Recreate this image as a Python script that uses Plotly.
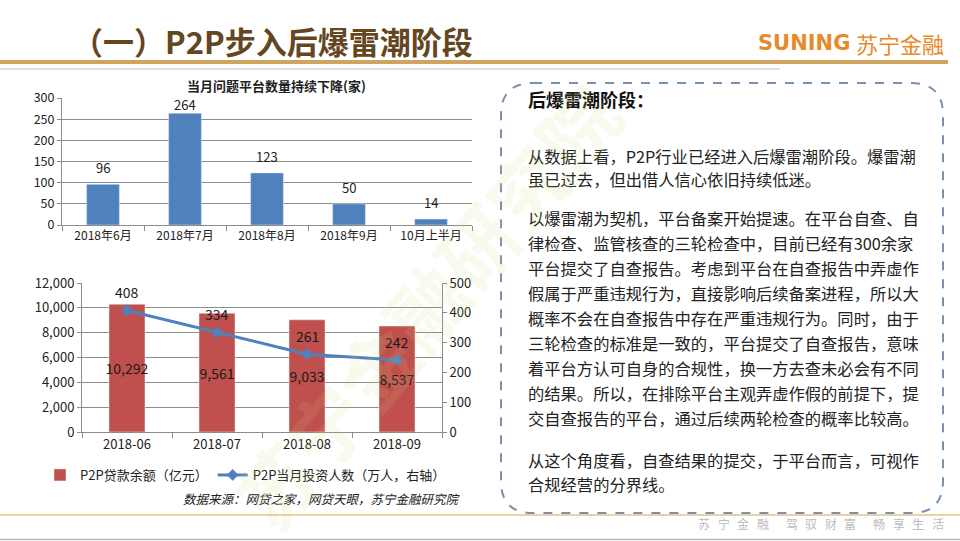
import plotly.graph_objects as go

W, H = 960, 541
FONT = "Noto Sans CJK SC"

# ---------------- data ----------------
top_title = "当月问题平台数量持续下降(家)"
top_categories = ["2018年6月", "2018年7月", "2018年8月", "2018年9月", "10月上半月"]
top_values = [96, 264, 123, 50, 14]

months = ["2018-06", "2018-07", "2018-08", "2018-09"]
loan_balance = [10292, 9561, 9033, 8537]          # 亿元
investors = [408, 334, 261, 242]                  # 万人 (右轴)
loan_name = "P2P贷款余额（亿元）"
investor_name = "P2P当月投资人数（万人，右轴）"
source_text = "数据来源：网贷之家，网贷天眼，苏宁金融研究院"

page_title = "（一）P2P步入后爆雷潮阶段"
box_header = "后爆雷潮阶段："
box_lines = [
    "从数据上看，P2P行业已经进入后爆雷潮阶段。爆雷潮",
    "虽已过去，但出借人信心依旧持续低迷。",
    "以爆雷潮为契机，平台备案开始提速。在平台自查、自",
    "律检查、监管核查的三轮检查中，目前已经有300余家",
    "平台提交了自查报告。考虑到平台在自查报告中弄虚作",
    "假属于严重违规行为，直接影响后续备案进程，所以大",
    "概率不会在自查报告中存在严重违规行为。同时，由于",
    "三轮检查的标准是一致的，平台提交了自查报告，意味",
    "着平台方认可自身的合规性，换一方去查未必会有不同",
    "的结果。所以，在排除平台主观弄虚作假的前提下，提",
    "交自查报告的平台，通过后续两轮检查的概率比较高。",
    "从这个角度看，自查结果的提交，于平台而言，可视作",
    "合规经营的分界线。",
]
box_line_y = [156, 179, 218, 243, 268, 293, 318, 343, 368, 393, 418, 460, 484]
footer_groups = ["苏宁金融", "驾驭财富", "畅享生活"]


def px(x):
    return x / W


def py(y):
    return 1 - y / H


fig = go.Figure()

# top chart bars
fig.add_trace(go.Bar(
    x=top_categories, y=top_values, xaxis="x", yaxis="y",
    marker=dict(color="#4F81BD"), width=0.4, showlegend=False,
    hoverinfo="x+y",
))

# bottom chart bars
fig.add_trace(go.Bar(
    x=months, y=loan_balance, xaxis="x2", yaxis="y2", name=loan_name,
    marker=dict(color="#C0504D"), width=0.4,
    texttemplate="%{y:,}", textposition="inside", insidetextanchor="middle",
    textangle=0,
    textfont=dict(family=FONT, size=14, color="#1a1a1a"),
    constraintext="none", cliponaxis=False,
))

# bottom chart line
fig.add_trace(go.Scatter(
    x=months, y=investors, xaxis="x2", yaxis="y3", name=investor_name,
    mode="lines+markers",
    line=dict(color="#4F81BD", width=3),
    marker=dict(symbol="diamond", size=9, color="#4F81BD"),
))

annotations = []

# top labels
for c, v in zip(top_categories, top_values):
    annotations.append(dict(x=c, y=v, xref="x", yref="y", text=str(v),
                            showarrow=False, yanchor="bottom",
                            yshift=5 if v < 250 else -3,
                            font=dict(family=FONT, size=13, color="#222")))
# line labels
for m, v in zip(months, investors):
    annotations.append(dict(x=m, y=v, xref="x2", yref="y3", text=str(v),
                            showarrow=False, yanchor="middle", yshift=18,
                            font=dict(family=FONT, size=14, color="#1a1a1a")))

# top chart title
annotations.append(dict(x=px(276), y=py(85), xref="paper", yref="paper",
                        text="<b>" + top_title + "</b>", showarrow=False,
                        xanchor="center", yanchor="middle",
                        font=dict(family=FONT, size=13, color="#222")))
# source
annotations.append(dict(x=px(463), y=py(498), xref="paper", yref="paper",
                        text="<i>" + source_text + "</i>", showarrow=False,
                        xanchor="right", yanchor="middle",
                        font=dict(family=FONT, size=12.5, color="#222")))
# page title
annotations.append(dict(x=px(70), y=py(40), xref="paper", yref="paper",
                        text="<b>" + page_title + "</b>", showarrow=False,
                        xanchor="left", yanchor="middle",
                        font=dict(family=FONT, size=31, color="#644621")))
# logo
annotations.append(dict(x=px(852), y=py(43), xref="paper", yref="paper",
                        text="<b>SUNING</b>", showarrow=False,
                        xanchor="right", yanchor="middle",
                        font=dict(family="DejaVu Sans", size=21, color="#E8892B")))
annotations.append(dict(x=px(946), y=py(43), xref="paper", yref="paper",
                        text="苏宁金融", showarrow=False,
                        xanchor="right", yanchor="middle",
                        font=dict(family=FONT, size=22, color="#E8892B")))
# box header
annotations.append(dict(x=px(526), y=py(99), xref="paper", yref="paper",
                        text="<b>" + box_header + "</b>", showarrow=False,
                        xanchor="left", yanchor="middle",
                        font=dict(family=FONT, size=18, color="#111")))
for t, yy in zip(box_lines, box_line_y):
    annotations.append(dict(x=px(526), y=py(yy), xref="paper", yref="paper",
                            text=t, showarrow=False,
                            xanchor="left", yanchor="middle",
                            font=dict(family=FONT, size=16.3, color="#222")))
# footer
for g, grp in enumerate(footer_groups):
    for i, ch in enumerate(grp):
        annotations.append(dict(x=px(704 + g * 87.5 + i * 19.5), y=py(523),
                                xref="paper", yref="paper", text=ch,
                                showarrow=False, xanchor="center", yanchor="middle",
                                font=dict(family=FONT, size=12, color="#BDBDBD")))
# watermark
annotations.append(dict(x=px(425), y=py(305), xref="paper", yref="paper",
                        text="<b>苏宁金融研究院</b>", showarrow=False, textangle=-50,
                        xanchor="center", yanchor="middle",
                        font=dict(family=FONT, size=78, color="rgba(200,215,120,0.13)")))

# ---------------- decorative shapes ----------------
shapes = []
shapes.append(dict(type="rect", xref="paper", yref="paper",
                   x0=0, x1=px(948), y0=py(64), y1=py(60),
                   fillcolor="#CFA45F", line=dict(width=0), layer="below"))
shapes.append(dict(type="line", xref="paper", yref="paper",
                   x0=0, x1=px(780), y0=py(69), y1=py(69),
                   line=dict(color="#DED6C6", width=1.5), layer="below"))
shapes.append(dict(type="line", xref="paper", yref="paper",
                   x0=0, x1=1, y0=py(515), y1=py(515),
                   line=dict(color="#D9A441", width=1), layer="below"))
shapes.append(dict(type="line", xref="paper", yref="paper",
                   x0=0, x1=1, y0=py(539.5), y1=py(539.5),
                   line=dict(color="#BBBBBB", width=1.5), layer="below"))

# rounded dashed box
bx0, bx1, by0, by1, r = 501, 943, 83, 513, 32


def P(x, y):
    return f"{px(x):.5f},{py(y):.5f}"


path = (f"M {P(bx0 + r, by0)} L {P(bx1 - r, by0)} Q {P(bx1, by0)} {P(bx1, by0 + r)} "
        f"L {P(bx1, by1 - r)} Q {P(bx1, by1)} {P(bx1 - r, by1)} "
        f"L {P(bx0 + r, by1)} Q {P(bx0, by1)} {P(bx0, by1 - r)} "
        f"L {P(bx0, by0 + r)} Q {P(bx0, by0)} {P(bx0 + r, by0)} Z")
shapes.append(dict(type="path", xref="paper", yref="paper", path=path,
                   line=dict(color="#7891B0", width=2, dash="dash"),
                   fillcolor="rgba(0,0,0,0)"))

axis_font = dict(family=FONT, size=12, color="#222")
grid = "#8C8C8C"

fig.update_layout(
    width=W, height=H,
    margin=dict(l=0, r=0, t=0, b=0, pad=0, autoexpand=False),
    paper_bgcolor="white", plot_bgcolor="white",
    font=dict(family=FONT, color="#222"),
    annotations=annotations, shapes=shapes,
    xaxis=dict(domain=[px(62), px(472)], anchor="y", type="category", automargin=False,
               showline=True, linecolor=grid,
               ticks="outside", tickson="boundaries", ticklen=5, tickcolor=grid,
               tickfont=axis_font, showgrid=False, fixedrange=True),
    yaxis=dict(domain=[py(225), py(98)], anchor="x", range=[0, 300], dtick=50, automargin=False,
               showgrid=True, gridcolor=grid, gridwidth=1, showline=True, linecolor=grid,
               ticks="outside", ticklen=4, tickcolor=grid,
               tickfont=dict(family=FONT, size=12.5, color="#222"), zeroline=False),
    xaxis2=dict(domain=[px(82), px(442)], anchor="y2", type="category", automargin=False,
                showline=True, linecolor=grid,
                ticks="outside", tickson="boundaries", ticklen=5, tickcolor=grid,
                tickfont=dict(family=FONT, size=13, color="#222"), showgrid=False),
    yaxis2=dict(domain=[py(432), py(283)], anchor="x2", range=[0, 12000], dtick=2000,
                automargin=False,
                tickformat=",", showgrid=True, gridcolor=grid, showline=True, linecolor=grid,
                ticks="outside", ticklen=4, tickcolor=grid,
                tickfont=dict(family=FONT, size=13, color="#222"), zeroline=False),
    yaxis3=dict(overlaying="y2", anchor="x2", side="right", range=[0, 500], dtick=100,
                automargin=False,
                showgrid=False, showline=True, linecolor=grid, ticks="outside", ticklen=4,
                tickcolor=grid, tickfont=dict(family=FONT, size=13, color="#222"), zeroline=False),
    legend=dict(orientation="h", x=px(40), y=py(475), xanchor="left", yanchor="middle",
                font=dict(family=FONT, size=13, color="#222"), bgcolor="rgba(0,0,0,0)"),
)

fig.write_html("out.html", config={"displayModeBar": False},
               post_script="document.body.style.margin='0';document.body.style.overflow='hidden';")
